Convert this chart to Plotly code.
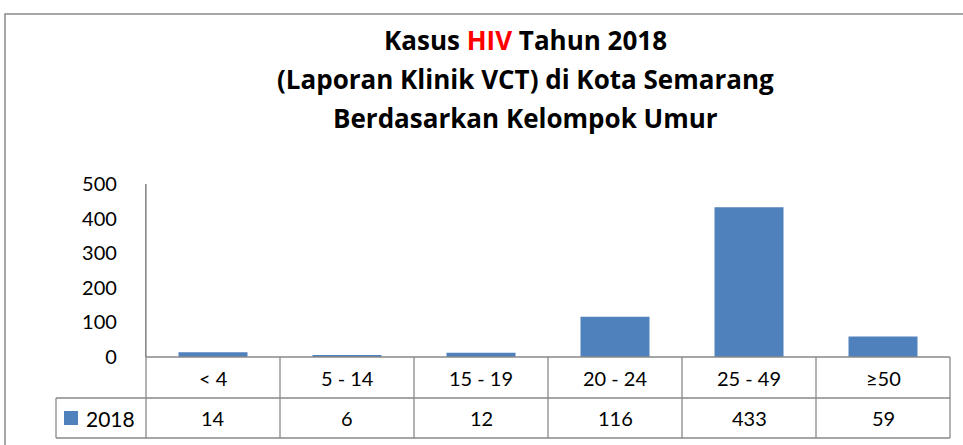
import plotly.graph_objects as go

categories = ["< 4", "5 - 14", "15 - 19", "20 - 24", "25 - 49", "≥50"]
series_name = "2018"
values = [14, 6, 12, 116, 433, 59]
y_ticks = [0, 100, 200, 300, 400, 500]

W, H = 963, 445
L, R, T, B = 146, 13, 184, 88
PW, PH = W - L - R, H - T - B

def px(x):
    return (x - L) / PW

def py(y):
    return (H - B - y) / PH

BAR = "#4F81BD"
GRID = "#898989"
FONT = "Lato, Carlito, 'Liberation Sans', sans-serif"
TFONT = "'Open Sans', Lato, sans-serif"

fig = go.Figure(go.Bar(x=categories, y=values, marker=dict(color=BAR, line=dict(width=0)),
                       name=series_name, hoverinfo="x+y"))

shapes = []
n = len(categories)
row1, row2 = py(398), py(438)
legx = px(56)
line = dict(color=GRID, width=1.3)
# outer chart border
shapes.append(dict(type="rect", xref="paper", yref="paper", x0=px(5), x1=px(975), y0=py(460), y1=py(14),
                   line=dict(color="#8a8a8a", width=1.5), layer="below"))
# horizontal table lines
shapes.append(dict(type="line", xref="paper", yref="paper", x0=0, x1=1, y0=0, y1=0, line=line))
shapes.append(dict(type="line", xref="paper", yref="paper", x0=legx, x1=1, y0=row1, y1=row1, line=line))
shapes.append(dict(type="line", xref="paper", yref="paper", x0=legx, x1=1, y0=row2, y1=row2, line=line))
shapes.append(dict(type="line", xref="paper", yref="paper", x0=legx, x1=legx, y0=row1, y1=row2, line=line))
shapes.append(dict(type="line", xref="paper", yref="paper", x0=0, x1=0, y0=1, y1=row2, line=line))
for i in range(1, n + 1):
    xx = i / n
    shapes.append(dict(type="line", xref="paper", yref="paper", x0=xx, x1=xx, y0=0, y1=row2, line=line))
# legend key square
shapes.append(dict(type="rect", xref="paper", yref="paper", x0=px(64), x1=px(78), y0=py(425), y1=py(411),
                   fillcolor=BAR, line=dict(width=0)))

annotations = []
for i, (c, v) in enumerate(zip(categories, values)):
    xc = (i + 0.5) / n
    annotations.append(dict(xref="paper", yref="paper", x=xc, y=(0 + row1) / 2, text=c, showarrow=False,
                            font=dict(size=20, color="#000", family=FONT), xanchor="center", yanchor="middle"))
    annotations.append(dict(xref="paper", yref="paper", x=xc, y=(row1 + row2) / 2, text=str(v), showarrow=False,
                            font=dict(size=20, color="#000", family=FONT), xanchor="center", yanchor="middle"))
annotations.append(dict(xref="paper", yref="paper", x=px(84), y=(row1 + row2) / 2, text=series_name,
                        showarrow=False, font=dict(size=21, color="#000", family=FONT),
                        xanchor="left", yanchor="middle"))

title_lines = ["Kasus <span style='color:#FF0000'>HIV</span> Tahun 2018",
               "(Laporan Klinik VCT) di Kota Semarang",
               "Berdasarkan Kelompok Umur"]
title_y = [40, 79, 118]
for t, yy in zip(title_lines, title_y):
    annotations.append(dict(xref="paper", yref="paper", x=px(525), y=py(yy), text="<b>" + t + "</b>",
                            showarrow=False, font=dict(size=26, color="#000", family=TFONT),
                            xanchor="center", yanchor="middle"))

fig.update_layout(
    width=W, height=H,
    margin=dict(l=L, r=R, t=T, b=B, pad=0),
    paper_bgcolor="white", plot_bgcolor="white",
    showlegend=False, bargap=0.485,
    shapes=shapes, annotations=annotations,
    xaxis=dict(range=[-0.5, n - 0.5], showticklabels=False, showline=False, showgrid=False,
               zeroline=False, ticks="", fixedrange=True),
    yaxis=dict(range=[0, 500], tickvals=y_ticks, showline=True, linecolor=GRID, linewidth=1.3,
               showgrid=False, zeroline=False, ticks="", ticklabelstandoff=24,
               tickfont=dict(size=20, color="#000", family=FONT), fixedrange=True),
)

fig.write_html("out.html", config={"displayModeBar": False},
               post_script="document.body.style.margin='0';document.body.style.overflow='hidden';")
